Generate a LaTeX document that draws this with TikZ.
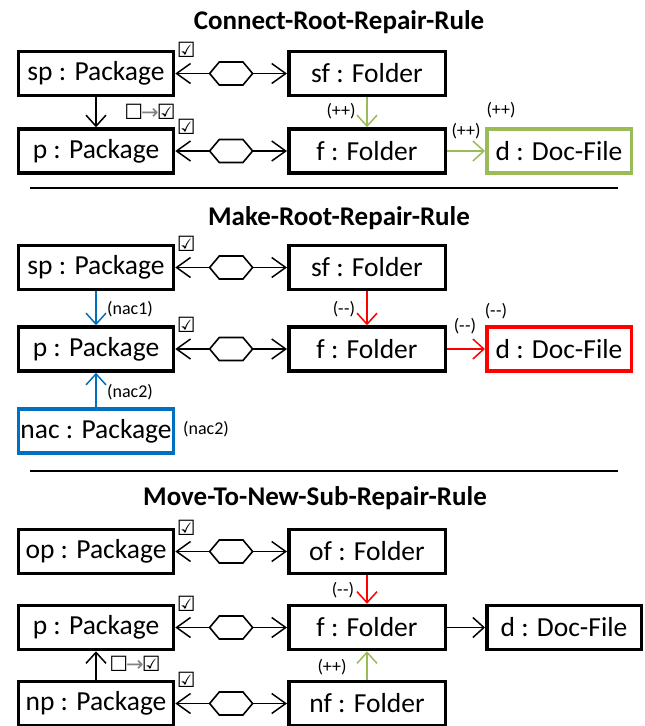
\documentclass[tikz,border=0pt]{standalone}
\usepackage{fontspec}
\setmainfont{Carlito}
\newfontfamily\symfont{DejaVu Sans}
\usetikzlibrary{arrows.meta,shapes.symbols}
\definecolor{addgreen}{RGB}{155,187,89}
\definecolor{nacblue}{RGB}{0,112,192}
\definecolor{delred}{RGB}{255,0,0}
\newcommand{\chk}{{\symfont\char"2611}}
\newcommand{\unchk}{{\symfont\char"2610}}
\newcommand{\toset}{{\unchk{\color{gray}\symfont\kern-2pt\char"2192\kern-2pt}\chk}}
\tikzset{
    obj/.style={draw, line width=3.5pt, minimum height=44pt, inner sep=0pt, font=\fontsize{27.5}{30}\selectfont},
    pkg/.style={obj, minimum width=155pt},
    fld/.style={obj, minimum width=156.5pt},
    assoc/.style={line width=1.5pt, {Straight Barb[length=14pt,width=20pt]}-{Straight Barb[length=14pt,width=20pt]}},
    ref/.style={line width=1.5pt, -{Straight Barb[length=11pt,width=20pt]}},
    hexa/.style={draw, fill=white, line width=1.6pt, shape=signal, signal to=east and west, signal pointer angle=100, minimum width=43pt, minimum height=23pt, inner sep=0pt},
    ttl/.style={font=\bfseries\fontsize{27}{30}\selectfont},
    lbl/.style={font=\fontsize{18}{20}\selectfont, inner sep=0pt},
    chkmark/.style={font=\fontsize{21}{22}\selectfont, inner sep=0pt},
    sepline/.style={line width=1.8pt},
}
\begin{document}
\begin{tikzpicture}[x=1pt,y=-1pt]
    \useasboundingbox (0,0) rectangle (645,726);

    % Connect-Root-Repair-Rule
    \node[ttl] (t1) at (339,22) {Connect-Root-Repair-Rule};
    \node[pkg] (sp1) at (96,73.5) {sp : Package};
    \node[fld] (sf1) at (367,73.5) {sf : Folder};
    \node[pkg] (p1) at (96,151) {p : Package};
    \node[fld] (f1) at (367,151) {f : Folder};
    \node[obj, draw=addgreen, minimum width=144.5pt] (d1) at (559,151) {d : Doc-File};
    \node[chkmark] (sp1c) at ([xshift=11pt]sp1.north east) {\chk};
    \node[chkmark] (p1c) at ([xshift=11pt]p1.north east) {\chk};
    \draw[assoc] (sp1) -- (sf1) node[hexa, midway] (h1a) {};
    \draw[assoc] (p1) -- (f1) node[hexa, midway] (h1b) {};
    \draw[ref] (sp1) -- (p1);
    \draw[ref, addgreen] (sf1) -- (f1);
    \draw[ref, addgreen] (f1) -- (d1);
    \node[chkmark] (s1) at (150,112) {\toset};
    \node[lbl] (l1a) at (341,111) {(++)};
    \node[lbl] (l1b) at (466,131) {(++)};
    \node[lbl] (l1c) at (501,110) {(++)};
    \draw[sepline] (30,188) -- (618,188);

    % Make-Root-Repair-Rule
    \node[ttl] (t2) at (339,218) {Make-Root-Repair-Rule};
    \node[pkg] (sp2) at (96,267.5) {sp : Package};
    \node[fld] (sf2) at (367,267.5) {sf : Folder};
    \node[pkg] (p2) at (96,349) {p : Package};
    \node[fld] (f2) at (367,349) {f : Folder};
    \node[obj, draw=delred, minimum width=144.5pt] (d2) at (559,349) {d : Doc-File};
    \node[pkg, draw=nacblue] (nac) at (96,431) {nac : Package};
    \node[chkmark] (sp2c) at ([xshift=11pt]sp2.north east) {\chk};
    \node[chkmark] (p2c) at ([xshift=11pt]p2.north east) {\chk};
    \draw[assoc] (sp2) -- (sf2) node[hexa, midway] (h2a) {};
    \draw[assoc] (p2) -- (f2) node[hexa, midway] (h2b) {};
    \draw[ref, nacblue] (sp2) -- (p2);
    \draw[ref, nacblue] (nac) -- (p2);
    \draw[ref, delred] (sf2) -- (f2);
    \draw[ref, delred] (f2) -- (d2);
    \node[lbl] (l2a) at (130,309) {(nac1)};
    \node[lbl] (l2b) at (130,392) {(nac2)};
    \node[lbl] (l2c) at (206,429) {(nac2)};
    \node[lbl] (l2d) at (344,309) {(-\kern0.5pt-)};
    \node[lbl] (l2e) at (465,326) {(-\kern0.5pt-)};
    \node[lbl] (l2f) at (496,311) {(-\kern0.5pt-)};
    \draw[sepline] (30,471) -- (618,471);

    % Move-To-New-Sub-Repair-Rule
    \node[ttl] (t3) at (315,498) {Move-To-New-Sub-Repair-Rule};
    \node[pkg] (op) at (96,551.5) {op : Package};
    \node[fld] (of) at (367,551.5) {of : Folder};
    \node[pkg] (p3) at (96,627.5) {p : Package};
    \node[fld] (f3) at (367,627.5) {f : Folder};
    \node[obj, minimum width=154.5pt] (d3) at (564,627.5) {d : Doc-File};
    \node[pkg] (np) at (96,703.5) {np : Package};
    \node[fld] (nf) at (367,703.5) {nf : Folder};
    \node[chkmark] (opc) at ([xshift=11pt]op.north east) {\chk};
    \node[chkmark] (p3c) at ([xshift=11pt]p3.north east) {\chk};
    \node[chkmark] (npc) at ([xshift=11pt]np.north east) {\chk};
    \draw[assoc] (op) -- (of) node[hexa, midway] (h3a) {};
    \draw[assoc] (p3) -- (f3) node[hexa, midway] (h3b) {};
    \draw[assoc] (np) -- (nf) node[hexa, midway] (h3c) {};
    \draw[ref, delred] (of) -- (f3);
    \draw[ref, addgreen] (nf) -- (f3);
    \draw[ref] (np) -- (p3);
    \draw[ref] (f3) -- (d3);
    \node[chkmark] (s3) at (135,664) {\toset};
    \node[lbl] (l3a) at (343,590) {(-\kern0.5pt-)};
    \node[lbl] (l3b) at (332,667) {(++)};
\end{tikzpicture}
\end{document}
